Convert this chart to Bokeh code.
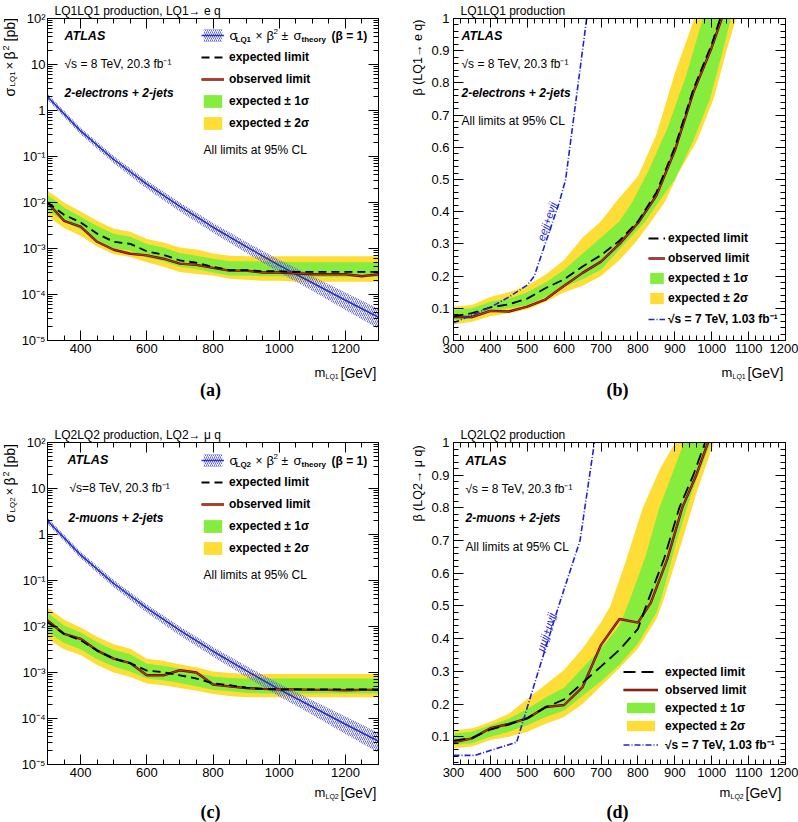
import math
from bokeh.plotting import figure
from bokeh.models import Range1d, FixedTicker, LinearAxis, LogAxis, Label, Legend, LegendItem
from bokeh.layouts import column, row
from bokeh.embed import file_html
from bokeh.resources import INLINE

SANS = "Liberation Sans"
SERIF = "Liberation Serif"
YELLOW = "#fedd36"
GREEN = "#86ec3e"
BLUE = "#2233c4"
HATCH = "#6666e0"
BLUE7 = "#2222d0"
DARK = "#4a0e02"
RED = "#dc2a18"

# ---------------- data: panels (a) and (c) ----------------
m_ac = [300, 350, 400, 450, 500, 550, 600, 650, 700, 750, 800, 850, 900, 950, 1000,
        1050, 1100, 1150, 1200, 1250, 1300]

a_exp = [1.0e-2, 5.4e-3, 3.7e-3, 2.1e-3, 1.4e-3, 1.26e-3, 8.7e-4, 7.3e-4, 5.5e-4, 4.9e-4,
         4.0e-4, 3.4e-4, 3.4e-4, 3.2e-4, 3.2e-4, 3.1e-4, 3.1e-4, 3.1e-4, 3.1e-4, 3.1e-4, 3.1e-4]
a_obs = [1.0e-2, 4.0e-3, 3.0e-3, 1.4e-3, 9.4e-4, 7.7e-4, 7.1e-4, 6.0e-4, 4.7e-4, 4.4e-4,
         3.8e-4, 3.3e-4, 3.3e-4, 3.0e-4, 3.0e-4, 2.9e-4, 2.75e-4, 2.75e-4, 2.75e-4, 2.5e-4, 2.75e-4]
a_y2_hi = [1.8e-2, 1.0e-2, 6.4e-3, 4.0e-3, 2.7e-3, 2.3e-3, 1.6e-3, 1.35e-3, 1.05e-3, 9.5e-4,
           7.8e-4, 7.0e-4, 6.8e-4, 6.8e-4, 6.8e-4, 6.8e-4, 6.8e-4, 6.8e-4, 6.8e-4, 6.8e-4, 6.8e-4]
a_y2_lo = [5.1e-3, 2.8e-3, 1.9e-3, 1.1e-3, 7.5e-4, 6.5e-4, 5.0e-4, 4.0e-4, 3.1e-4, 2.8e-4,
           2.6e-4, 2.2e-4, 2.1e-4, 2.0e-4, 2.0e-4, 1.9e-4, 1.9e-4, 1.9e-4, 1.9e-4, 1.9e-4, 1.9e-4]
a_g1_hi = [1.45e-2, 7.8e-3, 4.9e-3, 3.1e-3, 2.1e-3, 1.8e-3, 1.25e-3, 1.05e-3, 8.0e-4, 7.0e-4,
           6.0e-4, 5.3e-4, 5.3e-4, 5.2e-4, 5.2e-4, 5.0e-4, 5.0e-4, 5.0e-4, 5.0e-4, 5.0e-4, 5.0e-4]
a_g1_lo = [6.8e-3, 3.8e-3, 2.6e-3, 1.5e-3, 1.0e-3, 9.0e-4, 6.3e-4, 5.3e-4, 4.0e-4, 3.6e-4,
           3.0e-4, 2.6e-4, 2.6e-4, 2.5e-4, 2.5e-4, 2.4e-4, 2.4e-4, 2.4e-4, 2.4e-4, 2.4e-4, 2.4e-4]

c_exp = [1.24e-2, 6.9e-3, 5.0e-3, 3.0e-3, 2.0e-3, 1.6e-3, 1.1e-3, 1.02e-3, 8.7e-4, 7.4e-4,
         5.8e-4, 5.3e-4, 4.7e-4, 4.4e-4, 4.3e-4, 4.3e-4, 4.3e-4, 4.3e-4, 4.3e-4, 4.3e-4, 4.3e-4]
c_obs = [1.35e-2, 6.9e-3, 5.4e-3, 3.0e-3, 2.0e-3, 1.6e-3, 8.7e-4, 8.7e-4, 1.12e-3, 1.0e-3,
         5.5e-4, 5.0e-4, 4.6e-4, 4.4e-4, 4.3e-4, 4.3e-4, 4.2e-4, 4.2e-4, 4.1e-4, 4.2e-4, 4.2e-4]
c_y2_hi = [2.6e-2, 1.4e-2, 9.5e-3, 6.0e-3, 4.1e-3, 3.3e-3, 2.0e-3, 1.8e-3, 1.5e-3, 1.3e-3,
           1.05e-3, 9.7e-4, 9.3e-4, 9.3e-4, 9.3e-4, 9.3e-4, 9.3e-4, 9.3e-4, 9.3e-4, 9.3e-4, 9.3e-4]
c_y2_lo = [5.4e-3, 3.2e-3, 2.4e-3, 1.45e-3, 1.0e-3, 8.0e-4, 5.8e-4, 5.3e-4, 4.6e-4, 4.0e-4,
           3.4e-4, 3.1e-4, 2.9e-4, 2.9e-4, 2.9e-4, 2.9e-4, 2.9e-4, 2.9e-4, 2.9e-4, 2.9e-4, 2.9e-4]
c_g1_hi = [2.0e-2, 1.05e-2, 7.4e-3, 4.6e-3, 3.1e-3, 2.5e-3, 1.55e-3, 1.4e-3, 1.2e-3, 1.0e-3,
           8.2e-4, 7.6e-4, 7.4e-4, 7.4e-4, 7.4e-4, 7.4e-4, 7.4e-4, 7.4e-4, 7.4e-4, 7.4e-4, 7.4e-4]
c_g1_lo = [7.6e-3, 4.4e-3, 3.2e-3, 1.95e-3, 1.35e-3, 1.05e-3, 7.4e-4, 6.8e-4, 5.9e-4, 5.0e-4,
           4.2e-4, 3.9e-4, 3.6e-4, 3.5e-4, 3.5e-4, 3.5e-4, 3.5e-4, 3.5e-4, 3.5e-4, 3.5e-4, 3.5e-4]

# theory cross section (beta = 1) with its uncertainty band
m_th = [300, 400, 500, 600, 700, 800, 900, 1000, 1100, 1200, 1300]
th = [2.0, 0.36, 0.086, 0.025, 0.0082, 0.0029, 0.0011, 0.00043, 0.00018, 7.5e-5, 3.2e-5]
th_hi = [2.3, 0.42, 0.102, 0.030, 0.0100, 0.0036, 0.00140, 0.00057, 0.00025, 1.1e-4, 4.9e-5]
th_lo = [1.72, 0.305, 0.071, 0.020, 0.0064, 0.0022, 0.00081, 0.00030, 0.00012, 4.6e-5, 1.8e-5]

# ---------------- data: panel (b) ----------------
b_exp_m = [300, 350, 400, 450, 500, 550, 600, 650, 700, 750, 800, 850, 900, 950, 1000, 1023]
b_exp_b = [0.075, 0.085, 0.103, 0.112, 0.13, 0.163, 0.19, 0.23, 0.265, 0.31, 0.37, 0.46, 0.6, 0.78, 0.92, 1.0]
b_obs_m = [300, 350, 400, 450, 500, 550, 600, 650, 700, 750, 800, 850, 900, 950, 1000, 1027]
b_obs_b = [0.073, 0.073, 0.092, 0.09, 0.105, 0.128, 0.17, 0.21, 0.245, 0.3, 0.365, 0.45, 0.59, 0.77, 0.91, 1.0]
b_y2_up_m = [300, 350, 400, 450, 500, 550, 600, 650, 700, 740, 800, 850, 900, 953]
b_y2_up_b = [0.105, 0.11, 0.135, 0.15, 0.17, 0.205, 0.25, 0.32, 0.37, 0.43, 0.51, 0.64, 0.83, 1.0]
b_y2_dn_m = [1066, 1040, 1005, 960, 910, 873, 830, 790, 750, 700, 650, 600, 550, 500, 450, 400, 350, 300]
b_y2_dn_b = [1.0, 0.9, 0.75, 0.62, 0.52, 0.43, 0.36, 0.3, 0.25, 0.2, 0.17, 0.15, 0.12, 0.097, 0.085, 0.075, 0.058, 0.05]
b_g1_up_m = [300, 350, 400, 450, 500, 550, 600, 650, 700, 750, 785, 830, 880, 930, 976]
b_g1_up_b = [0.095, 0.1, 0.12, 0.13, 0.15, 0.18, 0.22, 0.27, 0.32, 0.37, 0.43, 0.53, 0.66, 0.82, 1.0]
b_g1_dn_m = [1052, 1030, 995, 950, 900, 856, 820, 780, 740, 700, 650, 600, 550, 500, 450, 400, 350, 300]
b_g1_dn_b = [1.0, 0.9, 0.75, 0.62, 0.5, 0.43, 0.37, 0.32, 0.27, 0.22, 0.19, 0.165, 0.135, 0.11, 0.1, 0.088, 0.068, 0.062]
b7_m = [300, 400, 450, 500, 519, 587, 604, 661]
b7_b = [0.055, 0.103, 0.135, 0.172, 0.2, 0.43, 0.5, 1.0]

# ---------------- data: panel (d) ----------------
d_exp_m = [300, 350, 400, 450, 500, 550, 600, 650, 700, 750, 800, 822, 871, 912, 950, 982]
d_exp_b = [0.088, 0.096, 0.122, 0.137, 0.157, 0.19, 0.214, 0.265, 0.315, 0.366, 0.43, 0.5, 0.645, 0.8, 0.9, 1.0]
d_obs_m = [300, 350, 400, 450, 500, 550, 600, 650, 700, 750, 800, 835, 880, 920, 958, 990]
d_obs_b = [0.083, 0.095, 0.126, 0.139, 0.156, 0.191, 0.197, 0.252, 0.381, 0.46, 0.449, 0.51, 0.645, 0.8, 0.9, 1.0]
d_y2_up_m = [300, 350, 400, 450, 500, 550, 600, 650, 700, 725, 765, 813, 860, 901]
d_y2_up_b = [0.12, 0.125, 0.145, 0.17, 0.215, 0.26, 0.305, 0.37, 0.45, 0.5, 0.63, 0.8, 0.92, 1.0]
d_y2_dn_m = [1006, 960, 920, 867, 850, 800, 750, 700, 650, 600, 550, 500, 450, 400, 350, 300]
d_y2_dn_b = [1.0, 0.85, 0.7, 0.51, 0.46, 0.37, 0.31, 0.255, 0.2, 0.16, 0.14, 0.115, 0.1, 0.09, 0.07, 0.065]
d_g1_up_m = [300, 350, 400, 450, 500, 550, 600, 650, 700, 750, 775, 820, 858, 925]
d_g1_up_b = [0.11, 0.115, 0.135, 0.155, 0.185, 0.22, 0.25, 0.31, 0.37, 0.44, 0.51, 0.65, 0.8, 1.0]
d_g1_dn_m = [997, 950, 905, 870, 850, 800, 750, 700, 650, 600, 550, 500, 450, 400, 350, 300]
d_g1_dn_b = [1.0, 0.86, 0.7, 0.55, 0.48, 0.385, 0.32, 0.27, 0.225, 0.18, 0.16, 0.135, 0.115, 0.1, 0.08, 0.075]
d7_m = [300, 358, 471, 530, 588, 643, 682]
d7_b = [0.043, 0.043, 0.083, 0.3, 0.51, 0.7, 1.0]

# ---------------- ticks ----------------
log_major = [1e-5, 1e-4, 1e-3, 1e-2, 1e-1, 1.0, 10.0, 100.0]
log_labels = {1e-5: "10⁻⁵", 1e-4: "10⁻⁴", 1e-3: "10⁻³", 1e-2: "10⁻²", 1e-1: "10⁻¹",
              1.0: "1", 10.0: "10", 100.0: "10²"}
log_minor = [k * 10.0 ** e for e in range(-5, 2) for k in range(2, 10)]
ac_x_major = [400, 600, 800, 1000, 1200]
ac_x_minor = list(range(300, 1301, 50))
bd_x_major = [300, 400, 500, 600, 700, 800, 900, 1000, 1100, 1200]
bd_x_minor = list(range(300, 1201, 20))
beta_major = [0, 0.1, 0.2, 0.3, 0.4, 0.5, 0.6, 0.7, 0.8, 0.9, 1.0]
beta_major_d = [0.1, 0.2, 0.3, 0.4, 0.5, 0.6, 0.7, 0.8, 0.9, 1.0]
beta_labels = {0: "0", 0.1: "0.1", 0.2: "0.2", 0.3: "0.3", 0.4: "0.4", 0.5: "0.5",
               0.6: "0.6", 0.7: "0.7", 0.8: "0.8", 0.9: "0.9", 1.0: "1"}
beta_minor = [i / 50 for i in range(0, 51)]


def make_fig(w, h, bl, br, bt, bb, xr, yr, logy, title):
    p = figure(width=w, height=h, x_range=Range1d(*xr), y_range=Range1d(*yr),
               y_axis_type="log" if logy else "linear", output_backend="svg",
               toolbar_location=None, min_border_left=bl, min_border_right=br,
               min_border_top=bt, min_border_bottom=bb)
    p.grid.visible = False
    p.outline_line_color = "black"
    p.background_fill_color = "white"
    p.border_fill_color = "white"
    p.title.text = title
    p.title.align = "left"
    p.title.offset = 7
    p.title.standoff = 2
    p.title.text_font = SANS
    p.title.text_font_size = "12px"
    p.title.text_font_style = "normal"
    p.title.text_color = "black"
    return p


def text_fig(w, h):
    p = figure(width=w, height=h, x_range=Range1d(0, w), y_range=Range1d(0, h),
               min_border=0, toolbar_location=None, output_backend="svg",
               x_axis_location=None, y_axis_location=None)
    p.grid.visible = False
    p.outline_line_color = None
    p.background_fill_color = "white"
    p.border_fill_color = "white"
    return p


def style_axis(ax, major, minor, tin, tmin, overrides=None, show=True, standoff=3):
    ax.ticker = FixedTicker(ticks=major, minor_ticks=minor)
    ax.major_tick_in = tin
    ax.major_tick_out = 0
    ax.minor_tick_in = tmin
    ax.minor_tick_out = 0
    ax.axis_line_color = "black"
    ax.major_tick_line_color = "black"
    ax.minor_tick_line_color = "black"
    if show:
        ax.major_label_text_font = SANS
        ax.major_label_text_font_size = "13px"
        ax.major_label_text_color = "black"
        ax.major_label_standoff = standoff
        if overrides:
            ax.major_label_overrides = overrides
    else:
        ax.major_label_overrides = {t: "" for t in major}
        ax.major_label_text_font_size = "0px"
        ax.major_label_standoff = 0


def setup_axes(p, logy, xmaj, xmin, ymaj, ymin, ylab, xtin, xtmin, ytin, ytmin, xst, yst):
    style_axis(p.xaxis[0], xmaj, xmin, xtin, xtmin, standoff=xst)
    style_axis(p.yaxis[0], ymaj, ymin, ytin, ytmin, overrides=ylab, standoff=yst)
    top = LinearAxis()
    style_axis(top, xmaj, xmin, xtin, xtmin, show=False)
    p.add_layout(top, "above")
    right = LogAxis() if logy else LinearAxis()
    style_axis(right, ymaj, ymin, ytin, ytmin, show=False)
    p.add_layout(right, "right")


def T(p, O, x, y, s, size=12, style="normal", align="left", baseline="middle",
      angle=0.0, color="black", font=SANS):
    # O = (left, bottom) of the figure frame in page pixels
    p.add_layout(Label(x=x - O[0], y=O[1] - y, x_units="screen", y_units="screen",
                       text=s, text_font=font, text_font_size=f"{size}px",
                       text_font_style=style, text_align=align, text_baseline=baseline,
                       angle=angle, text_color=color))


def R(p, O, xc, ystart, s, size=14, style="normal"):
    T(p, O, xc, ystart, s, size=size, style=style, align="left", angle=math.pi / 2)


def legend(p, items, loc, gw, gh, lh, sp, st):
    lg = Legend(items=items, location=loc, orientation="vertical", glyph_width=gw,
                glyph_height=gh, label_height=lh, spacing=sp, padding=0, margin=0,
                label_standoff=st, border_line_alpha=0, background_fill_alpha=0,
                label_text_font=SANS, label_text_font_style="bold",
                label_text_font_size="12px", label_text_color="black")
    p.add_layout(lg)


def limit_panel_log(size, title, exp, obs, y2lo, y2hi, g1lo, g1hi):
    p = make_fig(*size, (300, 1300), (1e-5, 1e2), True, title)
    setup_axes(p, True, ac_x_major, ac_x_minor, log_major, log_minor, log_labels,
               10, 5, 10, 5, 3, 2)
    ry = p.varea(x=m_ac, y1=y2lo, y2=y2hi, fill_color=YELLOW)
    rg = p.varea(x=m_ac, y1=g1lo, y2=g1hi, fill_color=GREEN)
    rb = p.varea(x=m_th, y1=th_lo, y2=th_hi, fill_alpha=0, fill_color=HATCH,
                 hatch_pattern="/", hatch_color=HATCH, hatch_scale=4, hatch_weight=1)
    rt = p.line(m_th, th, line_color=BLUE, line_width=1.5)
    ro1 = p.line(m_ac, obs, line_color=DARK, line_width=2.4)
    ro2 = p.line(m_ac, obs, line_color=RED, line_width=1.1)
    re = p.line(m_ac, exp, line_color="black", line_width=1.8, line_dash="8 5")
    return p, [LegendItem(label=" ", renderers=[rb, rt]),
               LegendItem(label="expected limit", renderers=[re]),
               LegendItem(label="observed limit", renderers=[ro1, ro2]),
               LegendItem(label="expected ± 1σ", renderers=[rg]),
               LegendItem(label="expected ± 2σ", renderers=[ry])]


def beta_panel(size, title, yr, ymaj, exp_m, exp_b, obs_m, obs_b,
               y2u_m, y2u_b, y2d_m, y2d_b, g1u_m, g1u_b, g1d_m, g1d_b, s7_m, s7_b, dash):
    p = make_fig(*size, (300, 1200), yr, False, title)
    setup_axes(p, False, bd_x_major, bd_x_minor, ymaj, beta_minor, beta_labels,
               9, 5, 10, 5, 3, 4)
    ry = p.patch(list(y2u_m) + list(y2d_m), list(y2u_b) + list(y2d_b),
                 fill_color=YELLOW, line_alpha=0)
    rg = p.patch(list(g1u_m) + list(g1d_m), list(g1u_b) + list(g1d_b),
                 fill_color=GREEN, line_alpha=0)
    ro1 = p.line(obs_m, obs_b, line_color=DARK, line_width=2.4)
    ro2 = p.line(obs_m, obs_b, line_color=RED, line_width=1.1)
    re = p.line(exp_m, exp_b, line_color="black", line_width=1.8, line_dash=dash)
    r7 = p.line(s7_m, s7_b, line_color=BLUE7, line_width=1.6, line_dash="6 2 1 2")
    return p, [LegendItem(label="expected limit", renderers=[re]),
               LegendItem(label="observed limit", renderers=[ro1, ro2]),
               LegendItem(label="expected ± 1σ", renderers=[rg]),
               LegendItem(label="expected ± 2σ", renderers=[ry]),
               LegendItem(label="√s = 7 TeV, 1.03 fb⁻¹", renderers=[r7])]


def theory_legend_text(p, O, y, lq):
    T(p, O, 225, y, "σ", 13)
    T(p, O, 231, y + 3.5, lq, 8, "bold")
    T(p, O, 251, y, "×", 12)
    T(p, O, 262, y, "β", 13)
    T(p, O, 269, y - 4.5, "2", 8)
    T(p, O, 277, y, "±", 12)
    T(p, O, 289, y, "σ", 13)
    T(p, O, 297, y + 3.5, "theory", 8, "bold")
    T(p, O, 327, y, "(β = 1)", 12, "bold")


def sigma_ylabel(p, O, xc, y0, lq):
    R(p, O, xc, y0, "σ", 14)
    R(p, O, xc + 3, y0 - 10, lq, 8)
    R(p, O, xc, y0 - 27, "×", 13)
    R(p, O, xc, y0 - 37, "β", 14)
    R(p, O, xc - 4, y0 - 46, "2", 9)
    R(p, O, xc, y0 - 55, "[pb]", 14)


def mass_xlabel(p, O, xm, y, lq):
    T(p, O, xm, y, "m", 13)
    T(p, O, xm + 11, y + 3.5, lq, 7)
    T(p, O, xm + 26, y, "[GeV]", 14)


# ================= panel (a) =================
FA = (43, 340)
pa, items_a = limit_panel_log((382, 360, 25, 22, 16, 20), "LQ1LQ1 production, LQ1→ e q",
                              a_exp, a_obs, a_y2_lo, a_y2_hi, a_g1_lo, a_g1_hi)
legend(pa, items_a, (154, 208), 23, 16, 18, 4, 5)
T(pa, FA, 60, 35, "ATLAS", 12.5, "bold italic")
T(pa, FA, 60, 63, "√s = 8 TeV, 20.3 fb⁻¹", 12)
T(pa, FA, 60, 92, "2-electrons + 2-jets", 12, "bold italic")
T(pa, FA, 199, 149, "All limits at 95% CL", 12)
theory_legend_text(pa, FA, 35, "LQ1")
ya = text_fig(18, 360)
sigma_ylabel(ya, (0, 340), 9, 96, "LQ1")
xa = text_fig(400, 60)
mass_xlabel(xa, (0, 420), 314, 372, "LQ1")
T(xa, (0, 420), 210, 389, "(a)", 18, "bold", align="center", font=SERIF)
quad_a = column(row(ya, pa), xa)

# ================= panel (b) =================
FB = (450, 340)
pb, items_b = beta_panel((370, 360, 22, 13, 16, 20), "LQ1LQ1 production", (0, 1), beta_major,
                         b_exp_m, b_exp_b, b_obs_m, b_obs_b,
                         b_y2_up_m, b_y2_up_b, b_y2_dn_m, b_y2_dn_b,
                         b_g1_up_m, b_g1_up_b, b_g1_dn_m, b_g1_dn_b, b7_m, b7_b, "10 5")
legend(pb, items_b, (195, 13), 17, 14, 16, 4, 3)
T(pb, FB, 458, 35, "ATLAS", 12.5, "bold italic")
T(pb, FB, 458, 63, "√s = 8 TeV, 20.3 fb⁻¹", 12)
T(pb, FB, 458, 92, "2-electrons + 2-jets", 12, "bold italic")
T(pb, FB, 458, 120, "All limits at 95% CL", 12)
pb.add_layout(Label(x=553, y=0.37, text="eejj+eνjj", angle=1.25, text_align="center",
                    text_baseline="middle", text_font=SANS, text_font_size="11px",
                    text_font_style="italic", text_color=BLUE7))
yb = text_fig(28, 360)
T(yb, (400, 340), 417, 57, "β (LQ1→ e q)", 12.5, align="center", angle=math.pi / 2)
xb = text_fig(398, 60)
mass_xlabel(xb, (400, 420), 721, 372, "LQ1")
T(xb, (400, 420), 617, 389, "(b)", 18, "bold", align="center", font=SERIF)
quad_b = column(row(yb, pb), xb)

# ================= panel (c) =================
FC = (43, 764)
pc, items_c = limit_panel_log((382, 362, 25, 22, 22, 18), "LQ2LQ2 production, LQ2→ μ q",
                              c_exp, c_obs, c_y2_lo, c_y2_hi, c_g1_lo, c_g1_hi)
legend(pc, items_c, (154, 207), 23, 16, 18, 4, 5)
T(pc, FC, 63, 459, "ATLAS", 12.5, "bold italic")
T(pc, FC, 65, 487, "√s=8 TeV, 20.3 fb⁻¹", 12)
T(pc, FC, 64, 517, "2-muons + 2-jets", 12, "bold italic")
T(pc, FC, 199, 574, "All limits at 95% CL", 12)
theory_legend_text(pc, FC, 460, "LQ2")
yc = text_fig(18, 362)
sigma_ylabel(yc, (0, 764), 9, 522, "LQ2")
xc = text_fig(400, 40)
mass_xlabel(xc, (0, 822), 314, 792, "LQ2")
T(xc, (0, 822), 210, 811, "(c)", 18, "bold", align="center", font=SERIF)
quad_c = column(row(yc, pc), xc)

# ================= panel (d) =================
FD = (450, 764)
pd, items_d = beta_panel((370, 362, 22, 13, 22, 18), "LQ2LQ2 production", (0.015, 1),
                         beta_major_d, d_exp_m, d_exp_b, d_obs_m, d_obs_b,
                         d_y2_up_m, d_y2_up_b, d_y2_dn_m, d_y2_dn_b,
                         d_g1_up_m, d_g1_up_b, d_g1_dn_m, d_g1_dn_b, d7_m, d7_b, "12 6")
legend(pd, items_d, (170, 11), 35, 13, 15, 3, 7)
T(pd, FD, 462, 460, "ATLAS", 12.5, "bold italic")
T(pd, FD, 462, 488, "√s = 8 TeV, 20.3 fb⁻¹", 12)
T(pd, FD, 462, 517, "2-muons + 2-jets", 12, "bold italic")
T(pd, FD, 462, 546, "All limits at 95% CL", 12)
pd.add_layout(Label(x=551, y=0.42, text="μμjj+μνjj", angle=1.27, text_align="center",
                    text_baseline="middle", text_font=SANS, text_font_size="11px",
                    text_font_style="italic", text_color=BLUE7))
yd = text_fig(28, 362)
T(yd, (400, 764), 417, 483, "β (LQ2→ μ q)", 12.5, align="center", angle=math.pi / 2)
xd = text_fig(398, 40)
mass_xlabel(xd, (400, 822), 719, 792, "LQ2")
T(xd, (400, 822), 617, 811, "(d)", 18, "bold", align="center", font=SERIF)
quad_d = column(row(yd, pd), xd)

layout = column(row(quad_a, quad_b), row(quad_c, quad_d))
open("out.html", "w").write(file_html(layout, INLINE))
